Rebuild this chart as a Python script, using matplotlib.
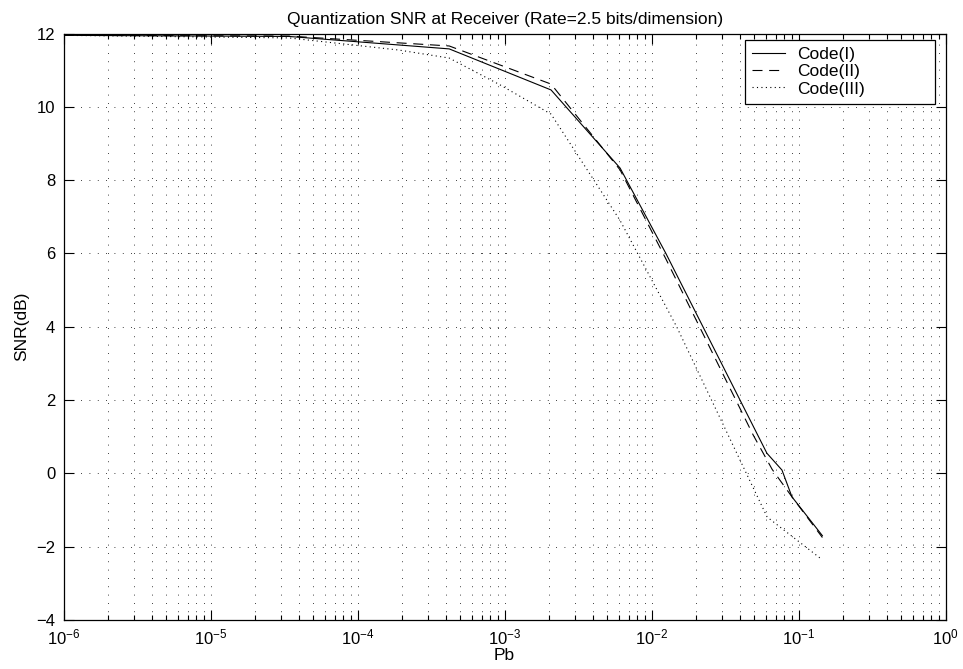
import matplotlib
matplotlib.use('Agg')
import matplotlib.pyplot as plt
from matplotlib.ticker import LogLocator, NullFormatter, MultipleLocator

plt.rcParams['font.family'] = ['Liberation Sans', 'DejaVu Sans']
plt.rcParams['mathtext.fontset'] = 'custom'
plt.rcParams['mathtext.rm'] = 'Liberation Sans'
plt.rcParams['mathtext.it'] = 'Liberation Sans:italic'

# values
pb_1 = [1e-6, 3.4e-5, 4.2e-4, 2.07e-3, 6.1e-3, 1.25e-2, 6.08e-2, 7.7e-2, 9.0e-2, 1.45e-1]
snr_1 = [11.95, 11.92, 11.58, 10.46, 8.33, 6.0, 0.55, 0.09, -0.64, -1.70]

pb_2 = [1e-6, 3.4e-5, 4.2e-4, 2.07e-3, 6.1e-3, 1.25e-2, 4.9e-2, 6.6e-2, 9.0e-2, 1.45e-1]
snr_2 = [11.95, 11.93, 11.66, 10.62, 8.28, 5.85, 1.05, 0.11, -0.64, -1.75]

pb_3 = [1e-6, 3.4e-5, 1.9e-4, 4.2e-4, 9.3e-4, 2.07e-3, 6.1e-3, 1.48e-2, 6.1e-2, 1.45e-1]
snr_3 = [11.95, 11.88, 11.55, 11.33, 10.6, 9.8, 6.9, 4.0, -1.19, -2.36]

labels = ['Code(I)', 'Code(II)', 'Code(III)']

W, H = 963, 669
fig = plt.figure(figsize=(W / 100, H / 100), dpi=100)
ax = fig.add_axes([63.5 / W, 1 - 620 / H, (945.7 - 63.5) / W, (620 - 33.5) / H])

ax.semilogx(pb_1, snr_1, color='black', lw=0.8, ls='-', label=labels[0])
ax.semilogx(pb_2, snr_2, color='black', lw=0.8, ls=(0, (9, 6)), label=labels[1])
ax.semilogx(pb_3, snr_3, color='black', lw=0.8, ls=(0, (1, 3)), label=labels[2])

ax.set_xlim(1e-6, 1)
ax.set_ylim(-4, 12)
ax.yaxis.set_major_locator(MultipleLocator(2))
ax.xaxis.set_major_locator(LogLocator(base=10, numticks=10))
ax.xaxis.set_minor_locator(LogLocator(base=10, subs=range(2, 10), numticks=100))
ax.xaxis.set_minor_formatter(NullFormatter())

grid_style = dict(color='black', lw=0.6, ls=(0, (1, 9)))
ax.grid(True, which='major', axis='both', **grid_style)
ax.grid(True, which='minor', axis='x', **grid_style)

ax.tick_params(which='both', direction='in', top=True, right=True, labelsize=12, width=0.8)
ax.tick_params(which='major', length=7)
ax.tick_params(which='minor', length=3.5)
ax.tick_params(axis='x', pad=5.5)
ax.tick_params(axis='y', pad=6)
for s in ax.spines.values():
    s.set_linewidth(0.9)

ax.set_title('Quantization SNR at Receiver (Rate=2.5 bits/dimension)', fontsize=12.5, pad=7)
ax.set_xlabel('Pb', fontsize=12.5, labelpad=0)
ax.set_ylabel('SNR(dB)', fontsize=12.5, labelpad=5)

leg = ax.legend(loc='upper left', mode='expand', fontsize=12.5,
                bbox_to_anchor=(745 / W, 1 - 102 / H, 190 / W, 62 / H),
                bbox_transform=fig.transFigure, borderaxespad=0,
                handlelength=1.9, handletextpad=0.7, labelspacing=0.12,
                borderpad=0.4, fancybox=False, framealpha=1, edgecolor='black')
leg.get_frame().set_linewidth(0.9)

fig.savefig('out.png', dpi=100)
